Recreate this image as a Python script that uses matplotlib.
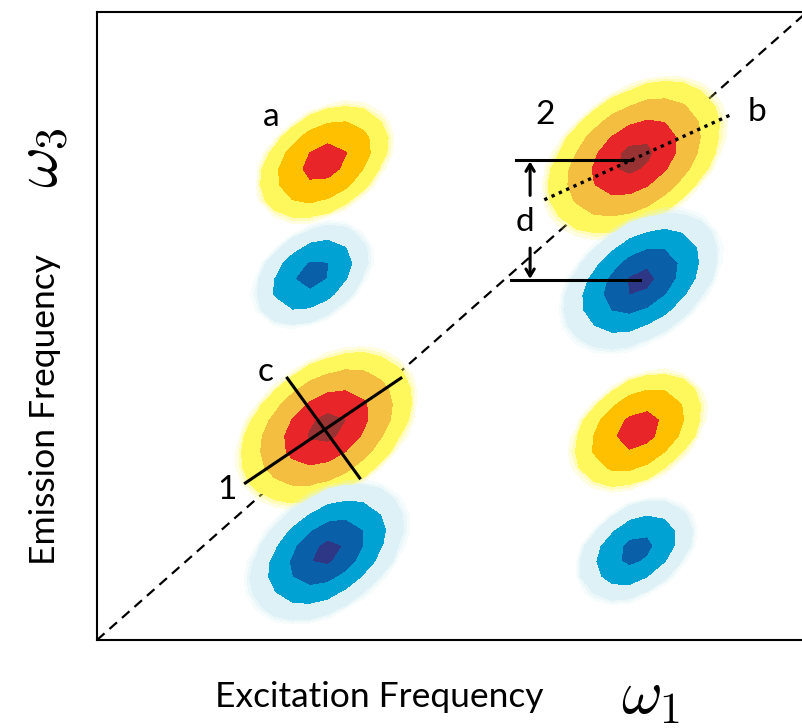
import numpy as np
import matplotlib
matplotlib.use("Agg")
import matplotlib.pyplot as plt

# ---- data -------------------------------------------------------------
# peak centres (excitation w1, emission w3), amplitudes and widths
peak_x = [3.23, 3.24, 7.57, 7.66, 3.20, 3.03, 7.62, 7.59]
peak_y = [3.38, 1.40, 7.68, 5.72, 7.61, 5.81, 3.34, 1.43]
peak_amp = [1.0, -1.0, 1.0, -1.0, 0.72, -0.70, 0.72, -0.70]
peak_su = [0.65, 0.59, 0.66, 0.59, 0.52, 0.46, 0.52, 0.46]
peak_sv = [0.43, 0.38, 0.43, 0.38, 0.35, 0.31, 0.35, 0.31]
peak_angle = [45, 45, 45, 45, 45, 45, 45, 45]
big_peak = [True, True, True, True, False, False, False, False]

pos_levels = [0.1, 0.25, 0.56, 0.89, 5]
neg_levels = [-5, -0.89, -0.56, -0.25, -0.1]
pos_colors_big = ["#FFF85C", "#F4BE41", "#E8262A", "#993232"]
pos_colors_small = ["#FFF85C", "#FFC000", "#E8262A", "#993232"]
neg_colors = ["#2E3785", "#0A60A8", "#00A2D3", "#DDF1F7"]

labels_txt = ["a", "2", "b", "c", "d", "1"]
labels_x = [2.45, 6.31, 9.30, 2.38, 6.03, 1.83]
labels_y = [8.33, 8.36, 8.41, 4.27, 6.66, 2.39]

# ---- figure -----------------------------------------------------------
plt.rcParams['font.family'] = ['Lato', 'DejaVu Sans']
plt.rcParams['mathtext.fontset'] = 'cm'
fig = plt.figure(figsize=(8.02, 7.28), dpi=100)
ax = fig.add_axes([97/802, 88/728, 710/802, 628/728])
ax.set_xlim(0, 10)
ax.set_ylim(0, 10)
ax.set_xticks([])
ax.set_yticks([])
for s in ax.spines.values():
    s.set_linewidth(1.5)

gx = np.linspace(0, 10, 41)
X, Y = np.meshgrid(gx, gx)
for cx, cy, A, su, sv, ang, big in zip(peak_x, peak_y, peak_amp, peak_su,
                                        peak_sv, peak_angle, big_peak):
    t = np.deg2rad(ang)
    U = (X - cx) * np.cos(t) + (Y - cy) * np.sin(t)
    V = -(X - cx) * np.sin(t) + (Y - cy) * np.cos(t)
    Z = A * np.exp(-U**2 / (2 * su**2) - V**2 / (2 * sv**2))
    if A > 0:
        glow = "#FFF85C"
        ax.contourf(X, Y, Z, levels=[0.07, 5], colors=[glow], alpha=0.18, zorder=2)
        ax.contourf(X, Y, Z, levels=[0.085, 5], colors=[glow], alpha=0.3, zorder=2)
        ax.contourf(X, Y, Z, levels=pos_levels,
                    colors=pos_colors_big if big else pos_colors_small, zorder=2)
    else:
        glow = "#DDF1F7"
        ax.contourf(X, Y, Z, levels=[-5, -0.07], colors=[glow], alpha=0.25, zorder=2)
        ax.contourf(X, Y, Z, levels=[-5, -0.085], colors=[glow], alpha=0.4, zorder=2)
        ax.contourf(X, Y, Z, levels=neg_levels, colors=neg_colors, zorder=2)

# diagonal
ax.plot([0, 10], [0, 10], color="black", lw=1.6, linestyle=(0, (4.5, 3)), zorder=1)

# cross lines on peak 1
ax.plot([2.09, 4.28], [2.50, 4.17], color="black", lw=2.2, zorder=4)
ax.plot([2.68, 3.70], [4.17, 2.58], color="black", lw=2.2, zorder=4)
# dotted line b
ax.plot([6.30, 8.92], [7.01, 8.36], color="black", lw=2.4,
        linestyle=(0, (1, 1.4)), zorder=4)
# horizontal lines for d
ax.plot([5.90, 7.54], [7.64, 7.64], color="black", lw=2.2, zorder=4)
ax.plot([5.83, 7.65], [5.73, 5.73], color="black", lw=2.2, zorder=4)
ax.annotate("", xy=(6.10, 7.62), xytext=(6.10, 7.08),
            arrowprops=dict(arrowstyle="->,head_length=0.5,head_width=0.3",
                            lw=2.2, color="black", shrinkA=0, shrinkB=0), zorder=4)
ax.annotate("", xy=(6.10, 5.75), xytext=(6.10, 6.24),
            arrowprops=dict(arrowstyle="->,head_length=0.5,head_width=0.3",
                            lw=2.2, color="black", shrinkA=0, shrinkB=0), zorder=4)

for t, x, y in zip(labels_txt, labels_x, labels_y):
    ax.text(x, y, t, fontsize=24, ha="center", va="center", zorder=5)

# axis labels
fig.text(379/802, 1 - 697/728, "Excitation Frequency", fontsize=25.5,
         ha="center", va="center")
fig.text(651/802, 1 - 697/728, r"$\omega_1$", fontsize=45, ha="center", va="center")
fig.text(45/802, 1 - 410/728, "Emission Frequency", fontsize=25.5,
         ha="center", va="center", rotation=90)
fig.text(41/802, 1 - 158/728, r"$\omega_3$", fontsize=45, ha="center", va="center",
         rotation=90)

fig.savefig("out.png", dpi=100)
